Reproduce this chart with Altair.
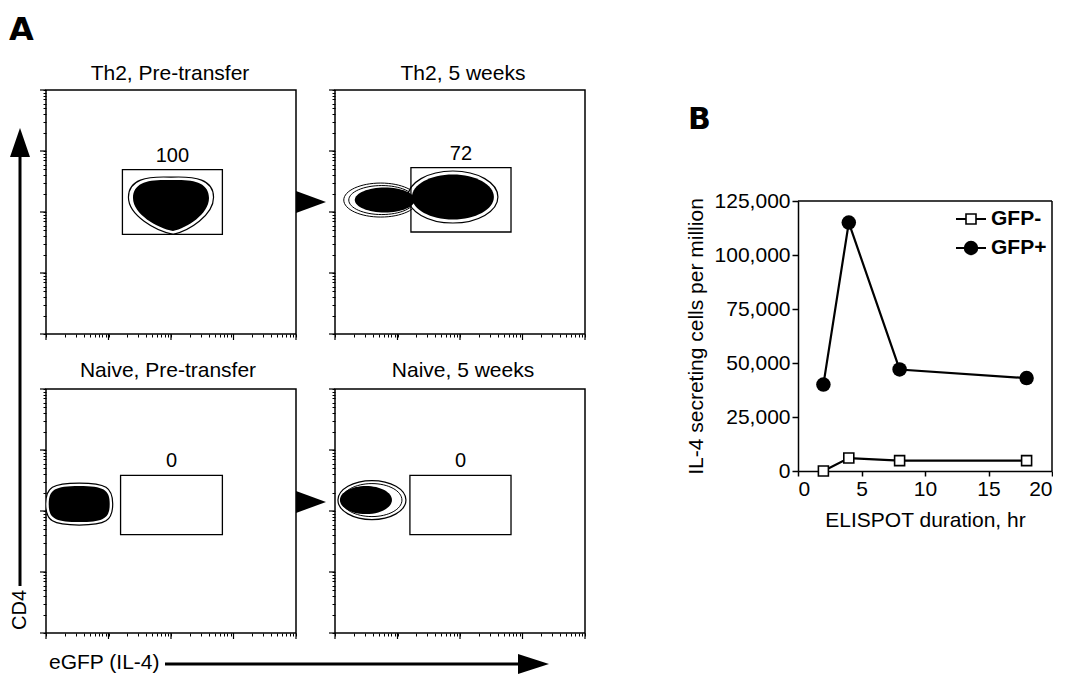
import altair as alt
import pandas as pd

# ---------------- Panel A: flow cytometry, CD4 vs eGFP (IL-4) ----------------
panel_titles = ["Th2, Pre-transfer", "Th2, 5 weeks", "Naive, Pre-transfer", "Naive, 5 weeks"]
gate_percent = ["100", "72", "0", "0"]
gate_egfp_lo = [16.7, 16.4, 15.6, 15.8]
gate_egfp_hi = [664, 655, 664, 655]
gate_cd4_lo = [43, 47, 41, 41]
gate_cd4_hi = [494, 532, 385, 385]

blob_panel = ["Th2, Pre-transfer", "Th2, 5 weeks", "Th2, 5 weeks",
              "Naive, Pre-transfer", "Naive, 5 weeks"]
blob_id = ["th2_pre", "th2_5wk_neg", "th2_5wk_pos", "naive_pre", "naive_5wk"]
blob_egfp = [100, 5.4, 77, 3.4, 3.9]
blob_cd4 = [135, 157, 176, 130, 151]

decade_ticks = [1, 10, 100, 1000, 10000]
minor_mult = [2, 3, 4, 5, 6, 7, 8, 9]
arrow_labels = ["CD4", "eGFP (IL-4)"]
panel_letters = ["A", "B"]

# ---------------- Panel B: ELISPOT ----------------
elispot_hours = [2, 4, 8, 18]
gfp_neg_cells = [0, 6000, 4800, 4800]
gfp_pos_cells = [40000, 115000, 47000, 43000]
series_names = ["GFP-", "GFP+"]
b_x_ticks = [0, 5, 10, 15, 20]
b_y_ticks = [0, 25000, 50000, 75000, 100000, 125000]

# ---------------- styles ----------------
FONT = "Liberation Sans"
PW, PH = 250, 244
TOP_PAD = 5
TITLE_X = [124, 128, 122, 128]
TITLE_Y = [-10, -10, -12, -12]


def ell(rx, ry, cx=0.0, k=0.5523):
    kx, ky = k * rx, k * ry
    f = lambda v: f"{v:.2f}"
    return (f"M{f(cx-rx)},0 C{f(cx-rx)},{f(-ky)} {f(cx-kx)},{f(-ry)} {f(cx)},{f(-ry)} "
            f"C{f(cx+kx)},{f(-ry)} {f(cx+rx)},{f(-ky)} {f(cx+rx)},0 "
            f"C{f(cx+rx)},{f(ky)} {f(cx+kx)},{f(ry)} {f(cx)},{f(ry)} "
            f"C{f(cx-kx)},{f(ry)} {f(cx-rx)},{f(ky)} {f(cx-rx)},0 Z")


HEART = ("M-38,-6 C-38,-22 -22,-25 0,-24 C22,-25 38,-22 38,-6 "
         "C38,10 16,24 2,27 C-14,24 -38,10 -38,-6 Z")

# (blob, path, size, fill, stroke, strokeWidth) in drawing order
BLOB_DRAW = [
    ("th2_pre", HEART, 4 * 1.12 ** 2, "white", "black", 1.2),
    ("th2_pre", HEART, 4, "black", None, 0),
    ("th2_5wk_neg", ell(37, 17), 4, "white", "black", 1.0),
    ("th2_5wk_neg", ell(33, 14.5, cx=1), 4, "white", "black", 1.0),
    ("th2_5wk_pos", ell(45, 26), 4, "white", "black", 1.2),
    ("th2_5wk_neg", ell(30, 12.5, cx=4), 4, "black", None, 0),
    ("th2_5wk_pos", ell(41, 22.5), 4, "black", None, 0),
    ("naive_pre", ell(33.5, 21, k=0.8), 4, "white", "black", 1.2),
    ("naive_pre", ell(30.5, 18, k=0.8), 4, "black", None, 0),
    ("naive_5wk", ell(34, 19.5), 4, "white", "black", 1.2),
    ("naive_5wk", ell(30, 16.5), 4, "white", "black", 1.0),
    ("naive_5wk", ell(26, 14, cx=-6), 4, "black", None, 0),
]

gates = pd.DataFrame({"panel": panel_titles, "percent": gate_percent,
                      "egfp_lo": gate_egfp_lo, "egfp_hi": gate_egfp_hi,
                      "cd4_lo": gate_cd4_lo, "cd4_hi": gate_cd4_hi})
blobs = pd.DataFrame({"panel": blob_panel, "blob": blob_id,
                      "egfp": blob_egfp, "cd4": blob_cd4})
decades = pd.DataFrame({"decade": decade_ticks})
one = pd.DataFrame({"k": [0]})

all_ticks = sorted(decade_ticks + [m * d for d in decade_ticks[:-1] for m in minor_mult])
flow_scale = alt.Scale(type="log", domain=[1, 10000], nice=False)
flow_axis = dict(values=all_ticks, labels=False, title=None, domain=False, grid=False,
                 ticks=True, tickSize=3, tickColor="black", tickWidth=1)


def X(field):
    return alt.X(f"{field}:Q", scale=flow_scale, axis=alt.Axis(**flow_axis))


def Y(field):
    return alt.Y(f"{field}:Q", scale=flow_scale, axis=alt.Axis(**flow_axis))


def flow_panel(i, decorations):
    title = panel_titles[i]
    g = gates[gates.panel == title]
    layers = []
    for bid, path, size, fill, stroke, sw in BLOB_DRAW:
        rows = blobs[(blobs.panel == title) & (blobs.blob == bid)]
        if rows.empty:
            continue
        kw = dict(shape=path, size=size, filled=True, fill=fill, opacity=1, clip=True)
        if stroke:
            kw.update(stroke=stroke, strokeWidth=sw)
        else:
            kw.update(strokeWidth=0)
        layers.append(alt.Chart(rows).mark_point(**kw).encode(x=X("egfp"), y=Y("cd4")))
    layers.append(alt.Chart(g).mark_rect(filled=False, color="black", stroke="black",
                                         strokeWidth=1.3).encode(
        x=X("egfp_lo"), x2="egfp_hi:Q", y=Y("cd4_lo"), y2="cd4_hi:Q"))
    layers.append(alt.Chart(g).transform_calculate(
        egfp_mid="sqrt(datum.egfp_lo * datum.egfp_hi)").mark_text(
        fontSize=20, baseline="alphabetic", align="center", dy=-8, color="black").encode(
        x=X("egfp_mid"), y=Y("cd4_hi"), text="percent:N"))
    layers.append(alt.Chart(decades).mark_rule(color="black", strokeWidth=1.2).encode(
        x=X("decade"), y=alt.value(PH), y2=alt.value(PH + 6)))
    layers.append(alt.Chart(decades).mark_rule(color="black", strokeWidth=1.2).encode(
        y=Y("decade"), x=alt.value(0), x2=alt.value(-6)))
    layers.append(alt.Chart(one).mark_text(text=title, fontSize=21, align="center",
                                           baseline="alphabetic", color="black").encode(
        x=alt.value(TITLE_X[i]), y=alt.value(TITLE_Y[i])))
    layers += decorations
    return alt.layer(*layers).properties(width=PW, height=PH)


def tri(path, x, y):
    return alt.Chart(one).mark_point(shape=path, size=4, filled=True, fill="black",
                                     strokeWidth=0, opacity=1).encode(
        x=alt.value(x), y=alt.value(y))


letter_A = alt.Chart(one).mark_text(text=panel_letters[0], font="DejaVu Sans", fontWeight="bold",
                                    fontSize=32, align="left", baseline="top",
                                    color="black").encode(x=alt.value(-37),
                                                          y=alt.value(-(80 - TOP_PAD)))
arrow_r = "M0,-11 L30,0 L0,11 Z"

p1 = flow_panel(0, [letter_A, tri(arrow_r, PW, 112)])
p2 = flow_panel(1, [])

cd4_line = alt.Chart(one).mark_rule(color="black", strokeWidth=3).encode(
    x=alt.value(-26), y=alt.value(-235), y2=alt.value(197))
cd4_head = tri("M-10,29 L0,0 L10,29 Z", -26, -261)
cd4_text = alt.Chart(one).mark_text(text=arrow_labels[0], fontSize=20, angle=270, align="center",
                                    baseline="middle", color="black").encode(
    x=alt.value(-26), y=alt.value(221))
gfp_line = alt.Chart(one).mark_rule(color="black", strokeWidth=3).encode(
    x=alt.value(119), x2=alt.value(474), y=alt.value(275))
gfp_head = tri("M0,-10 L31,0 L0,10 Z", 472, 275)
gfp_text = alt.Chart(one).mark_text(text=arrow_labels[1], fontSize=21, align="left",
                                    baseline="alphabetic", color="black").encode(
    x=alt.value(3), y=alt.value(280))

p3 = flow_panel(2, [tri(arrow_r, PW, 113), cd4_line, cd4_head, cd4_text,
                    gfp_line, gfp_head, gfp_text])
p4 = flow_panel(3, [])

# ---------------- Panel B chart ----------------
BX0, BX1, BY0, BY1 = 174, 428, 381, 111
bdf = pd.DataFrame({
    "hours": elispot_hours * 2,
    "cells": gfp_neg_cells + gfp_pos_cells,
    "series": [series_names[0]] * len(elispot_hours) + [series_names[1]] * len(elispot_hours),
})
xB = alt.X("hours:Q", scale=alt.Scale(domain=[0, 20], range=[BX0, BX1], nice=False),
           axis=alt.Axis(values=b_x_ticks, offset=BY0 - PH, tickSize=5, tickWidth=1.5,
                         tickColor="black", domainColor="black", domainWidth=1.5,
                         labelFontSize=21, labelPadding=2, labelColor="black",
                         title="ELISPOT duration, hr", titleFontSize=21,
                         titleFontWeight="normal", titlePadding=10, titleColor="black",
                         grid=False))
yB = alt.Y("cells:Q", scale=alt.Scale(domain=[0, 125000], range=[BY0, BY1], nice=False),
           axis=alt.Axis(values=b_y_ticks, format=",d", offset=-BX0, tickSize=6,
                         tickWidth=1.5, tickColor="black", domainColor="black",
                         domainWidth=1.5, labelFontSize=21, labelPadding=2,
                         labelColor="black", title="IL-4 secreting cells per million",
                         titleFontSize=21, titleFontWeight="normal", titlePadding=8,
                         titleColor="black", grid=False))

b_lines = alt.Chart(bdf).mark_line(color="black", strokeWidth=2.2).encode(
    x=xB, y=yB, detail="series:N")
b_neg = alt.Chart(bdf[bdf.series == series_names[0]]).mark_point(
    shape="square", size=100, filled=True, fill="white", stroke="black",
    strokeWidth=1.6, opacity=1).encode(x=xB, y=yB)
b_pos = alt.Chart(bdf[bdf.series == series_names[1]]).mark_point(
    shape="circle", size=210, filled=True, fill="black", strokeWidth=0,
    opacity=1).encode(x=xB, y=yB)
frame_top = alt.Chart(one).mark_rule(color="black", strokeWidth=1.5).encode(
    x=alt.value(BX0), x2=alt.value(BX1), y=alt.value(BY1))
frame_right = alt.Chart(one).mark_rule(color="black", strokeWidth=1.5).encode(
    x=alt.value(BX1), y=alt.value(BY1), y2=alt.value(BY0))

legend_layers = []
for i, name in enumerate(series_names):
    ly = 129 + 29 * i
    ldf = pd.DataFrame({"series": [name]})
    legend_layers.append(alt.Chart(ldf).mark_rule(color="black", strokeWidth=2).encode(
        x=alt.value(332), x2=alt.value(362), y=alt.value(ly)))
    if i == 0:
        legend_layers.append(alt.Chart(ldf).mark_point(
            shape="square", size=100, filled=True, fill="white", stroke="black",
            strokeWidth=1.6, opacity=1).encode(x=alt.value(347), y=alt.value(ly)))
    else:
        legend_layers.append(alt.Chart(ldf).mark_point(
            shape="circle", size=210, filled=True, fill="black", strokeWidth=0,
            opacity=1).encode(x=alt.value(347), y=alt.value(ly)))
    legend_layers.append(alt.Chart(ldf).mark_text(
        fontSize=21, fontWeight="bold", align="left", baseline="middle",
        color="black").encode(x=alt.value(367), y=alt.value(ly), text="series:N"))

letter_B = alt.Chart(one).mark_text(text=panel_letters[1], font="DejaVu Sans", fontWeight="bold",
                                    fontSize=30, align="left", baseline="top",
                                    color="black").encode(x=alt.value(64), y=alt.value(15))

pB = alt.layer(b_lines, b_neg, b_pos, frame_top, frame_right, letter_B,
               *legend_layers).properties(
    width=BX1, height=PH, view=alt.ViewBackground(strokeOpacity=0))

chart = alt.concat(
    p1, p2, pB, p3, p4, columns=3,
    spacing={"row": 55, "column": 39}, bounds="flush", align="each",
).properties(
    padding={"left": 0, "top": TOP_PAD, "right": 0, "bottom": 0}
).configure(font=FONT).configure_view(
    stroke="black", strokeWidth=1.5
).configure_axis(labelColor="black", titleColor="black")

chart.save("out.html", embed_options={"renderer": "svg", "actions": False})
